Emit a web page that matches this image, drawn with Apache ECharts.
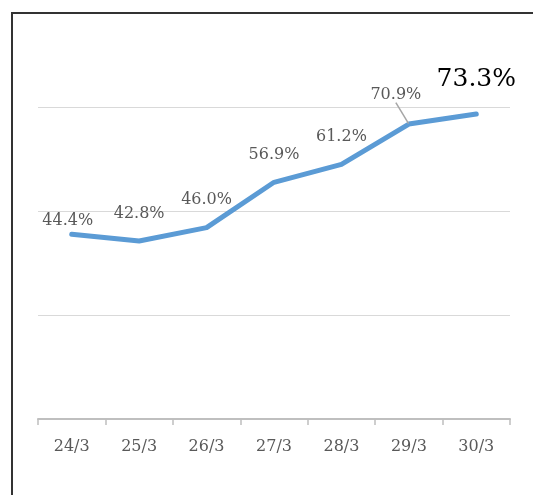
<!DOCTYPE html>
<html>
<head>
<meta charset="utf-8">
<script src="https://cdn.jsdelivr.net/npm/echarts@6/dist/echarts.min.js"></script>
<style>
  html, body { margin: 0; padding: 0; background: #fff; }
  #chart { width: 533px; height: 495px; }
</style>
</head>
<body>
<div id="chart"></div>
<script>
// Daily share, percent
const dates = ['24/3', '25/3', '26/3', '27/3', '28/3', '29/3', '30/3'];
const shares = [44.4, 42.8, 46.0, 56.9, 61.2, 70.9, 73.3];
const yTicks = [0, 25, 50, 75];

const serif = '"DejaVu Serif", "Liberation Serif", serif';

// label nudges (dx, dy) relative to the default "top" position
const labelShift = [[-4, -5], [0, -19], [0, -19], [0, -19], [0, -19], [-13, -21], [0, -22]];

const points = shares.map((v, i) => {
  const item = { value: v };
  if (i === shares.length - 1) {
    item.label = { fontSize: 25, color: '#000' };
  }
  return item;
});

const chart = echarts.init(document.getElementById('chart'), null, { renderer: 'canvas' });
chart.setOption({
  animation: false,
  backgroundColor: '#fff',
  grid: { left: 38, right: 23, top: 107, bottom: 76 },
  graphic: [{
    type: 'rect',
    shape: { x: 12, y: 13, width: 560, height: 520 },
    style: { fill: 'none', stroke: '#333', lineWidth: 2 },
    silent: true
  }],
  xAxis: {
    type: 'category',
    data: dates,
    boundaryGap: true,
    axisLine: { lineStyle: { color: '#BFBFBF', width: 2 } },
    axisTick: { show: true, length: 6, lineStyle: { color: '#BFBFBF', width: 1.5 } },
    axisLabel: { color: '#595959', fontFamily: serif, fontSize: 16, margin: 20 }
  },
  yAxis: {
    type: 'value',
    min: yTicks[0],
    max: yTicks[yTicks.length - 1],
    interval: 25,
    axisLine: { show: false },
    axisTick: { show: false },
    axisLabel: { show: false },
    splitLine: { lineStyle: { color: '#D9D9D9', width: 1 } }
  },
  series: [{
    type: 'line',
    data: points,
    showSymbol: true,
    symbol: 'circle',
    symbolSize: 1,
    itemStyle: { color: 'rgba(0,0,0,0)' },
    lineStyle: { color: '#5B9BD5', width: 5, cap: 'round', join: 'round' },
    label: {
      show: true,
      position: 'top',
      distance: 0,
      color: '#595959',
      fontFamily: serif,
      fontSize: 16,
      formatter: p => p.value.toFixed(1) + '%'
    },
    labelLine: { show: false, lineStyle: { color: '#A6A6A6', width: 1.5 } },
    labelLayout: p => ({ dx: labelShift[p.dataIndex][0], dy: labelShift[p.dataIndex][1] })
  }]
});
// leader line only for the 29/3 label
chart.setOption({
  series: [{
    data: points.map((d, i) => (i === 5 ? Object.assign({}, d, { labelLine: { show: true } }) : d))
  }]
});
</script>
</body>
</html>
